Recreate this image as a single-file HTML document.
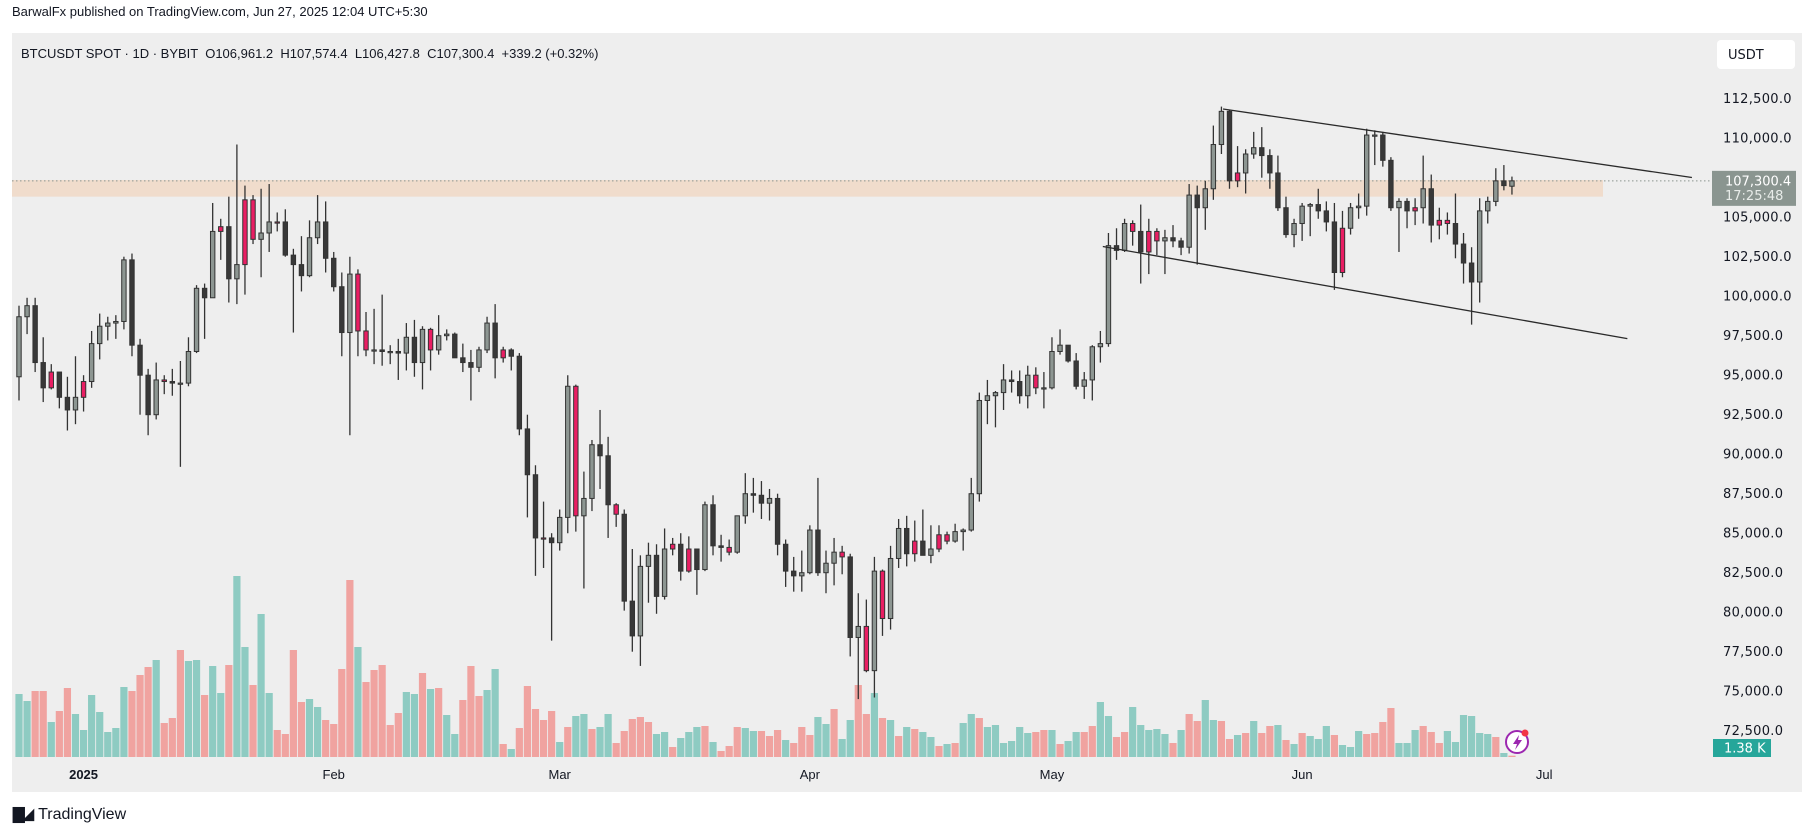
<!DOCTYPE html>
<html><head><meta charset="utf-8">
<style>
html,body{margin:0;padding:0;background:#fff;}
body{width:1815px;height:836px;overflow:hidden;position:relative;font-family:"Liberation Sans",Arial,sans-serif;}
#hdr{position:absolute;left:12px;top:4px;font-size:13px;color:#131722;}
#foot{position:absolute;left:13px;top:805px;font-size:16px;color:#131722;}
svg{position:absolute;left:0;top:0;}
</style></head>
<body>
<div id="hdr">BarwalFx published on TradingView.com, Jun 27, 2025 12:04 UTC+5:30</div>
<svg id="chart" width="1815" height="836"></svg>
<div id="foot"><span style="font-weight:bold;font-size:15px;letter-spacing:-2px;margin-right:6px">&#9607;&#9698;</span>TradingView</div>
<script>
// ---- data (prices in thousands USDT), index 0 = Dec 24 2024, 185 = Jun 27 2025
const opens=[94.9,98.7,99.4,95.8,94.2,95.2,93.6,92.8,93.6,94.6,97.0,98.1,98.3,98.4,102.3,96.9,95.0,92.5,94.7,94.6,94.5,94.5,96.5,100.5,99.9,104.1,104.4,101.1,102.0,106.1,103.6,104.0,104.7,104.7,102.6,102.0,101.3,103.7,104.7,102.4,100.6,97.7,101.4,97.8,96.6,96.6,96.5,96.5,96.4,97.4,95.8,97.9,96.6,97.5,97.6,96.1,95.8,95.5,96.6,98.3,96.1,96.6,96.2,91.6,88.7,84.7,84.7,84.4,86.0,94.3,86.1,87.2,90.6,89.9,86.8,86.2,80.7,78.5,82.9,83.6,81.0,84.0,84.3,82.6,84.0,82.7,86.8,84.2,84.1,83.8,86.1,87.5,87.4,86.9,87.2,84.3,82.6,82.3,82.5,85.2,82.5,83.1,83.8,83.5,78.4,79.1,76.3,82.6,79.6,83.4,85.3,83.7,84.5,83.6,84.0,84.9,84.5,85.1,85.2,87.5,93.4,93.7,93.9,94.7,94.6,93.7,95.0,94.2,94.2,96.5,96.9,95.9,94.3,94.7,96.8,97.0,103.2,102.9,104.6,104.1,102.8,104.1,103.5,103.7,103.5,103.1,106.4,105.6,106.8,109.6,111.7,107.3,107.8,109.0,109.4,108.9,107.8,105.6,103.9,104.6,105.7,105.8,105.4,104.7,101.5,104.3,105.6,105.7,110.2,110.2,108.6,105.6,106.0,105.4,105.6,106.8,104.5,104.8,104.6,103.3,102.1,100.9,105.4,106.0,107.3,106.96];
const highs=[99.4,99.9,99.9,97.4,95.7,95.2,94.9,96.2,95.0,97.8,98.9,98.7,98.8,102.5,102.7,97.3,95.4,95.8,95.0,95.4,95.9,97.4,100.7,100.8,105.9,104.9,106.3,109.6,107.0,106.4,106.8,107.1,105.3,105.5,103.0,103.8,104.8,106.4,106.0,102.8,101.5,102.5,101.7,99.0,99.2,100.1,96.9,97.3,98.3,98.5,98.1,98.0,98.8,97.9,97.7,97.0,96.6,96.8,98.7,99.5,96.8,96.7,96.4,92.5,89.3,87.0,85.0,86.5,95.0,94.4,88.9,90.9,92.8,91.1,86.9,86.5,84.0,83.6,84.4,84.3,85.3,84.7,85.0,84.8,84.0,87.0,87.4,84.9,84.6,86.1,88.8,88.5,88.3,87.8,87.5,84.6,83.5,83.9,85.5,88.5,83.9,84.7,84.2,83.7,81.2,80.8,83.5,82.7,84.2,85.9,86.1,85.8,86.5,85.5,85.5,85.1,85.6,85.3,88.5,93.9,94.7,94.0,95.7,95.3,95.3,95.6,95.5,95.2,97.4,97.9,96.9,96.4,95.2,96.9,97.8,104.0,104.3,104.9,104.8,105.8,104.9,104.3,104.2,104.5,103.7,107.1,107.0,107.3,110.8,112.0,111.8,109.5,109.3,110.4,110.7,109.3,108.9,106.3,104.9,105.9,105.9,106.8,106.0,105.9,105.4,105.9,106.5,110.6,110.5,110.4,108.8,106.2,106.2,106.2,108.9,107.7,105.6,105.3,106.5,104.0,103.1,106.2,106.3,108.1,108.3,107.57];
const lows=[93.4,97.6,95.2,93.3,94.1,92.9,91.5,91.9,92.7,94.2,96.0,97.2,97.3,97.9,96.2,92.5,91.2,92.2,93.8,93.7,89.2,94.3,96.4,97.3,99.9,102.3,99.6,99.5,100.1,103.3,101.2,102.8,104.1,102.5,97.7,100.3,101.2,103.3,101.5,100.3,96.2,91.2,96.2,96.2,95.7,95.6,95.7,94.7,95.3,94.9,94.1,95.3,96.3,97.2,96.1,95.2,93.4,95.2,96.4,94.8,95.8,95.3,91.2,86.0,82.3,82.8,78.2,83.9,85.0,85.1,81.5,86.4,87.8,84.7,85.4,80.1,77.5,76.6,80.6,79.9,80.8,83.6,82.0,82.5,81.1,82.6,83.6,83.2,83.6,83.7,85.6,86.3,85.9,85.8,83.6,81.6,81.3,81.3,82.4,82.3,81.2,81.7,82.4,77.2,74.5,76.2,74.6,78.5,78.9,82.8,82.9,83.2,83.6,83.1,83.8,84.3,84.4,83.9,85.1,87.0,91.9,91.7,92.8,93.9,93.2,92.9,93.8,92.9,94.1,96.3,95.8,94.1,93.5,93.4,95.8,96.8,102.3,102.8,103.2,100.8,101.4,102.6,101.4,103.1,102.6,102.7,102.0,104.2,106.1,109.0,106.8,106.9,106.5,108.7,107.5,106.8,105.4,103.7,103.1,103.5,103.8,104.9,104.1,100.4,101.2,103.9,104.9,105.1,108.3,108.2,105.4,102.8,104.3,104.5,104.6,103.4,103.6,103.9,102.4,100.8,98.2,99.6,104.6,105.7,106.7,106.43];
const closes=[98.7,99.4,95.8,94.2,95.2,93.6,92.8,93.6,94.6,97.0,98.1,98.3,98.4,102.3,96.9,95.0,92.5,94.7,94.6,94.5,94.5,96.5,100.5,99.9,104.1,104.4,101.1,102.0,106.1,103.6,104.0,104.7,104.7,102.6,102.0,101.3,103.7,104.7,102.4,100.6,97.7,101.4,97.8,96.6,96.6,96.5,96.5,96.4,97.4,95.8,97.9,96.6,97.5,97.6,96.1,95.8,95.5,96.6,98.3,96.1,96.6,96.2,91.6,88.7,84.7,84.7,84.4,86.0,94.3,86.1,87.2,90.6,89.9,86.8,86.2,80.7,78.5,82.9,83.6,81.0,84.0,84.3,82.6,84.0,82.7,86.8,84.2,84.1,83.8,86.1,87.5,87.4,86.9,87.2,84.3,82.6,82.3,82.5,85.2,82.5,83.1,83.8,83.5,78.4,79.1,76.3,82.6,79.6,83.4,85.3,83.7,84.5,83.6,84.0,84.9,84.5,85.1,85.2,87.5,93.4,93.7,93.9,94.7,94.6,93.7,95.0,94.2,94.2,96.5,96.9,95.9,94.3,94.7,96.8,97.0,103.2,102.9,104.6,104.1,102.8,104.1,103.5,103.7,103.5,103.1,106.4,105.6,106.8,109.6,111.7,107.3,107.8,109.0,109.4,108.9,107.8,105.6,103.9,104.6,105.7,105.8,105.4,104.7,101.5,104.3,105.6,105.7,110.2,110.2,108.6,105.6,106.0,105.4,105.6,106.8,104.5,104.8,104.6,103.3,102.1,100.9,105.4,106.0,107.3,107.0,107.3];
const redIdx=[4,8,18,25,28,29,32,42,43,51,60,65,69,74,81,83,88,102,105,107,111,114,115,126,138,140,141,151,164,173,176,177];
const volumes=[189,168,198,198,105,138,207,129,81,186,135,75,87,210,198,246,270,291,102,117,321,288,291,186,273,192,276,543,330,216,429,192,81,69,321,165,174,150,111,99,264,531,330,225,261,276,96,132,195,189,252,204,207,126,69,171,273,183,201,264,39,24,87,213,144,111,138,45,90,123,129,84,90,129,42,78,114,120,105,69,75,30,57,75,90,93,45,18,33,90,87,78,78,63,81,51,42,90,66,120,99,144,54,111,216,129,192,117,111,63,90,84,75,60,33,39,42,102,129,117,90,96,42,48,90,72,75,81,81,39,48,75,75,93,165,123,60,75,150,96,81,84,69,42,81,129,108,171,111,108,54,66,72,108,72,93,96,51,39,72,63,54,93,66,36,30,78,69,72,105,147,42,42,81,93,75,42,78,45,126,123,72,69,60,12,4];
const volDir="ttsstsstttttttssstsssttsttsttsttssssttsssstssssstts"+"tsttssstts"+"tssssststts"+"ttsssssttstttstsssttss"+"stsssttstt"+"sstststst"+"tststtsttttttsst"+"sttssttssttttts"+"tssttsststsstststttstttssssttt"+"ssstttttts"+"tsttstssss"+"tttstt";
const priceTicks=[112500,110000,107500,105000,102500,100000,97500,95000,92500,90000,87500,85000,82500,80000,77500,75000,72500];
const tickLabels=["112,500.0","110,000.0",null,"105,000.0","102,500.0","100,000.0","97,500.0","95,000.0","92,500.0","90,000.0","87,500.0","85,000.0","82,500.0","80,000.0","77,500.0","75,000.0","72,500.0"];
const monthIdx=[8,39,67,98,128,159,189];
const monthLabels=["2025","Feb","Mar","Apr","May","Jun","Jul"];
const lastPrice=107300.4;
const zoneTop=107350, zoneBottom=106300;
const upperLine=[[149.2,111846],[207.3,107513]];
const lowerLine=[[134.3,103146],[199.3,97316]];

// ---- axes
const X=i=>19+i*8.07;
const Y=p=>98.7+(112500-p)/2500*39.5;
const VY=v=>757-v/3;
const NS="http://www.w3.org/2000/svg";
const svg=document.getElementById('chart');
function mk(tag,attrs,parent){const e=document.createElementNS(NS,tag);for(const k in attrs)e.setAttribute(k,attrs[k]);(parent||svg).appendChild(e);return e;}

// panel
let panel=mk('rect',{x:12,y:33,width:1790,height:759,fill:'#eeeeee'});



// legend
let lg=mk('text',{x:21,y:58,'font-size':13,fill:'#131722','font-family':'Liberation Sans, sans-serif',style:'white-space:pre'});
lg.textContent='BTCUSDT SPOT · 1D · BYBIT  O106,961.2  H107,574.4  L106,427.8  C107,300.4  +339.2 (+0.32%)';



// zone
let zn=mk('rect',{x:12,y:Y(zoneTop),width:1591,height:Y(zoneBottom)-Y(zoneTop),fill:'#f0dccc'});



// volumes
const vg=mk('g',{});


volumes.forEach((v,i)=>{
  const r=mk('rect',{x:X(i)-3.6,y:VY(v),width:7.2,height:757-VY(v),fill:volDir[i]==='s'?'#f0a3a0':'#8ecbc2'},vg);
  
  
});

// last price dotted line
let dl=mk('line',{x1:12,x2:1712,y1:Y(lastPrice),y2:Y(lastPrice),stroke:'#8a9590','stroke-width':1,'stroke-dasharray':'1.5 2.5'});



// candles
const cg=mk('g',{});


closes.forEach((c,i)=>{
  const o=opens[i],h=highs[i],l=lows[i];
  const x=X(i);
  const g=mk('g',{},cg);
  
  
  mk('line',{x1:x,x2:x,y1:Y(h*1000),y2:Y(l*1000),stroke:'#333333','stroke-width':1.3},g);
  const top=Y(Math.max(o,c)*1000), bot=Y(Math.min(o,c)*1000);
  let fill=c>=o?'#8d9692':'#383838';
  if(redIdx.includes(i)) fill='#e91e63';
  mk('rect',{x:x-2.2,y:top,width:4.4,height:Math.max(bot-top,1.2),fill:fill,stroke:'#333333','stroke-width':1},g);
});

// trend lines
function tl(pts,name){
  const ln=mk('line',{x1:X(pts[0][0]),y1:Y(pts[0][1]),x2:X(pts[1][0]),y2:Y(pts[1][1]),stroke:'#2a2a2a','stroke-width':1.3});
  
  
}
tl(upperLine,'channel-upper-line');
tl(lowerLine,'channel-lower-line');

// price axis
const ag=mk('g',{});


priceTicks.forEach((p,i)=>{
  if(!tickLabels[i])return;
  const t=mk('text',{x:1723,y:Y(p)+4.5,'font-size':13,fill:'#131722','font-family':'DejaVu Sans, sans-serif','letter-spacing':'0.3'},ag);
  t.textContent=tickLabels[i];
  
  
});
// USDT box
let ub=mk('rect',{x:1717,y:40,width:78,height:29,rx:4,fill:'#ffffff'});


let ut=mk('text',{x:1728,y:59,'font-size':13,fill:'#131722','font-family':'DejaVu Sans, sans-serif'});
ut.textContent='USDT';


// last price label
let pb=mk('rect',{x:1712,y:Y(lastPrice)-10,width:84,height:35,fill:'#8a9590'});


let pt=mk('text',{x:1725,y:Y(lastPrice)+4.5,'font-size':13,fill:'#ffffff','font-family':'DejaVu Sans, sans-serif'});
pt.textContent='107,300.4';


let ct=mk('text',{x:1725,y:Y(lastPrice)+19,'font-size':13,fill:'#e8ece9','font-family':'DejaVu Sans, sans-serif'});
ct.textContent='17:25:48';


// volume badge
let vb=mk('rect',{x:1713,y:739,width:58,height:18,fill:'#26a69a'});


let vt=mk('text',{x:1724,y:752.5,'font-size':13,fill:'#ffffff','font-family':'DejaVu Sans, sans-serif'});
vt.textContent='1.38 K';



// time axis
monthIdx.forEach((m,i)=>{
  const t=mk('text',{x:X(m),y:779,'font-size':13,fill:'#131722','text-anchor':'middle','font-family':'Liberation Sans, sans-serif','font-weight':i===0?'bold':'normal'});
  t.textContent=monthLabels[i];
  
  
});

// lightning icon
const ig=mk('g',{});


mk('circle',{cx:1517,cy:742,r:11,fill:'#ffffff',stroke:'#9c27b0','stroke-width':2},ig);
mk('path',{d:'M1519 735 L1513 744 L1517 744 L1515 750 L1522 740 L1518 740 Z',fill:'#9c27b0'},ig);
mk('circle',{cx:1525,cy:733,r:3.5,fill:'#f23645'},ig);
</script>
</body></html>
